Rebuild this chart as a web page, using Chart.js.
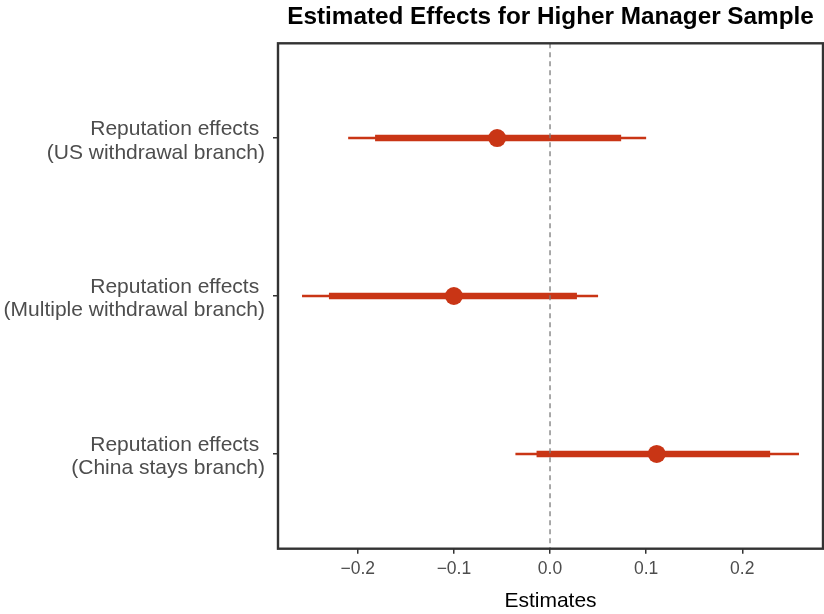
<!DOCTYPE html>
<html>
<head>
<meta charset="utf-8">
<script src="https://cdn.jsdelivr.net/npm/chart.js@4/dist/chart.umd.min.js"></script>
<style>
  html, body { margin: 0; padding: 0; background: #ffffff; }
  #wrap { width: 824px; height: 614px; }
</style>
</head>
<body>
<div id="wrap"><canvas id="c" width="824" height="614"></canvas></div>
<script>
// Coefficient rows (top to bottom) and their interval bounds
const rowLabels = [
  ['Reputation effects ', '(US withdrawal branch)'],
  ['Reputation effects ', '(Multiple withdrawal branch)'],
  ['Reputation effects ', '(China stays branch)']
];
const rowPositions = [1, 2, 3];
const estimates = [-0.055, -0.100, 0.111];
const innerLow  = [-0.182, -0.230, -0.014];
const innerHigh = [0.074, 0.028, 0.229];
const outerLow  = [-0.210, -0.258, -0.036];
const outerHigh = [0.100, 0.050, 0.259];
const xTicks = [-0.2, -0.1, 0.0, 0.1, 0.2];
const titleText = 'Estimated Effects for Higher Manager Sample';
const xTitle = 'Estimates';

const RED = '#c93515';
const FONT = '"Liberation Sans", Arial, Helvetica, sans-serif';

function intervalSets(lows, highs, width, order) {
  return rowPositions.map((y, i) => ({
    type: 'line',
    data: [{ x: lows[i], y: y }, { x: highs[i], y: y }],
    borderColor: RED,
    borderWidth: width,
    borderCapStyle: 'butt',
    pointRadius: 0,
    order: order
  }));
}

const datasets = [
  {
    type: 'line',
    data: [{ x: 0, y: 0.4 }, { x: 0, y: 3.6 }],
    borderColor: '#7a7a7a',
    borderWidth: 1.3,
    borderDash: [5, 4],
    pointRadius: 0,
    order: -1
  },
  ...intervalSets(outerLow, outerHigh, 2.6, 3),
  ...intervalSets(innerLow, innerHigh, 6.5, 2),
  {
    type: 'scatter',
    data: rowPositions.map((y, i) => ({ x: estimates[i], y: y })),
    backgroundColor: RED,
    borderColor: RED,
    borderWidth: 0,
    pointRadius: 9,
    order: 1
  }
];

// Panel frame and the title centred over the panel
const panelDecor = {
  id: 'panelDecor',
  afterDraw(chart) {
    const { ctx, chartArea: a } = chart;
    ctx.save();
    ctx.strokeStyle = '#333333';
    ctx.lineWidth = 2.4;
    ctx.strokeRect(a.left, a.top, a.right - a.left, a.bottom - a.top);
    ctx.fillStyle = '#000000';
    ctx.font = 'bold 24.3px ' + FONT;
    ctx.textAlign = 'center';
    ctx.textBaseline = 'alphabetic';
    ctx.fillText(titleText, (a.left + a.right) / 2, 23.5);
    ctx.restore();
  }
};

new Chart(document.getElementById('c'), {
  type: 'line',
  data: { datasets },
  plugins: [panelDecor],
  options: {
    responsive: false,
    animation: false,
    devicePixelRatio: 1,
    layout: { autoPadding: false, padding: { top: 43.3, right: 1, left: 0, bottom: 0 } },
    plugins: {
      legend: { display: false },
      tooltip: { enabled: false },
      title: { display: false }
    },
    scales: {
      x: {
        type: 'linear',
        min: -0.283,
        max: 0.284,
        afterBuildTicks: s => { s.ticks = xTicks.map(v => ({ value: v })); },
        afterFit: s => { s.height = 65.3; },
        grid: { drawOnChartArea: false, drawTicks: true, tickLength: 5, color: '#333333', lineWidth: 1.5 },
        border: { display: false },
        ticks: {
          color: '#4d4d4d',
          font: { family: FONT, size: 17.5 },
          padding: 5,
          maxRotation: 0,
          callback: v => (v < 0 ? '\u2212' : '') + Math.abs(v).toFixed(1)
        },
        title: {
          display: true,
          text: xTitle,
          color: '#000000',
          font: { family: FONT, size: 21 },
          padding: { top: 7, bottom: 0 }
        }
      },
      y: {
        type: 'linear',
        reverse: true,
        min: 0.4,
        max: 3.6,
        afterBuildTicks: s => { s.ticks = rowPositions.map(v => ({ value: v })); },
        afterFit: s => { s.width = 278; },
        grid: { drawOnChartArea: false, drawTicks: true, tickLength: 5, color: '#333333', lineWidth: 1.5 },
        border: { display: false },
        ticks: {
          color: '#4d4d4d',
          font: { family: FONT, size: 21, lineHeight: 1.11 },
          padding: 8,
          labelOffset: 3,
          callback: v => rowLabels[rowPositions.indexOf(v)]
        }
      }
    }
  }
});
</script>
</body>
</html>
